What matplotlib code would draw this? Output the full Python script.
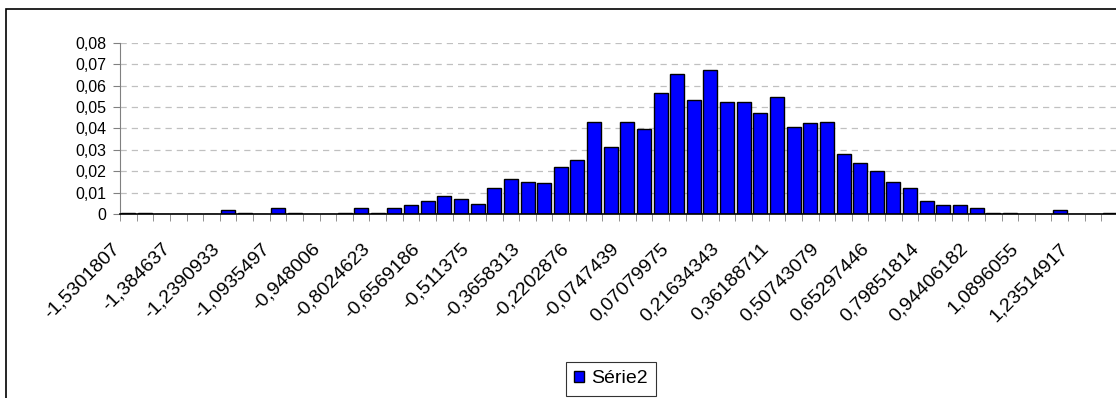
import matplotlib
matplotlib.use("Agg")
import matplotlib.pyplot as plt
from matplotlib.patches import Rectangle, Patch
from matplotlib.transforms import ScaledTranslation

plt.rcParams["font.family"] = ["Liberation Sans", "DejaVu Sans"]

# bar heights (60 classes)
values = [
    0.0006, 0.0006, 0, 0, 0, 0, 0.002, 0.0006, 0, 0.003,
    0.0006, 0, 0, 0.0006, 0.003, 0.0006, 0.003, 0.0044, 0.006, 0.0082,
    0.0068, 0.0048, 0.0123, 0.0165, 0.0151, 0.0143, 0.0218, 0.0253, 0.0431, 0.0314,
    0.0431, 0.0397, 0.0566, 0.0653, 0.0532, 0.0675, 0.0524, 0.0524, 0.0471, 0.0546,
    0.0409, 0.0425, 0.0431, 0.028, 0.024, 0.0199, 0.0151, 0.0123, 0.006, 0.0042,
    0.0042, 0.003, 0.0006, 0.0006, 0, 0, 0.002, 0, 0, 0.0006,
]

# one label every third class
tick_labels = [
    "-1,5301807", "-1,384637", "-1,2390933", "-1,0935497", "-0,948006",
    "-0,8024623", "-0,6569186", "-0,511375", "-0,3658313", "-0,2202876",
    "-0,0747439", "0,07079975", "0,21634343", "0,36188711", "0,50743079",
    "0,65297446", "0,79851814", "0,94406182", "1,0896055", "1,23514917",
]
y_ticks = [0, 0.01, 0.02, 0.03, 0.04, 0.05, 0.06, 0.07, 0.08]
y_tick_labels = ["0", "0,01", "0,02", "0,03", "0,04", "0,05", "0,06", "0,07", "0,08"]

fig = plt.figure(figsize=(11.16, 3.98), dpi=100)
# plot area runs slightly past the right edge of the picture, as in the original
ax = fig.add_axes([120 / 1116, 0.4623, 998 / 1116, 0.4297])

x = range(len(values))
ax.bar(x, values, width=0.84, color="#0000FF", edgecolor="black", linewidth=1.0, zorder=3)

ax.set_xlim(-0.5, len(values) - 0.5)
ax.set_ylim(0, 0.08)

# y axis
ax.set_yticks(y_ticks)
ax.set_yticklabels(y_tick_labels, fontsize=11.5)
ax.tick_params(axis="y", direction="out", length=5, color="#808080", pad=5)
for y in y_ticks[1:]:
    ax.axhline(y, color="#c0c0c0", linestyle=(0, (5, 4)), linewidth=0.9, zorder=1)

# x axis: tick marks between classes, labels every third class
ax.set_xticks([i - 0.5 for i in range(len(values) + 1)], minor=True)
ax.tick_params(axis="x", which="minor", direction="out", length=5, color="#808080")
ax.set_xticks(list(range(0, len(values), 3)))
ax.set_xticklabels(tick_labels, rotation=45, ha="right", va="top",
                   rotation_mode="anchor", fontsize=14)
ax.tick_params(axis="x", which="major", length=0, pad=0)
shift = ScaledTranslation(-0.17, -0.26, fig.dpi_scale_trans)
for lab in ax.get_xticklabels():
    lab.set_transform(lab.get_transform() + shift)

ax.spines["top"].set_visible(False)
ax.spines["right"].set_visible(False)
ax.spines["left"].set_color("#808080")
ax.spines["bottom"].set_color("black")
ax.spines["bottom"].set_linewidth(1.2)
ax.spines["bottom"].set_zorder(4)

# outer chart frame (right and bottom sides fall outside the picture)
fig.patches.append(Rectangle((6 / 1116, -0.05), 1.1, 1 - 9 / 398 + 0.05,
                             transform=fig.transFigure, fill=False,
                             edgecolor="black", linewidth=1.2))

handle = Patch(facecolor="#0000FF", edgecolor="black")
leg = fig.legend([handle], ["Série2"], loc="center", bbox_to_anchor=(611 / 1116, 0.048),
                 fontsize=14, frameon=True, fancybox=False, handlelength=0.5,
                 handleheight=0.5, handletextpad=0.35, borderpad=0.42,
                 borderaxespad=0)
leg.get_frame().set_edgecolor("black")
leg.get_frame().set_linewidth(0.8)

fig.savefig("out.png", dpi=100)
